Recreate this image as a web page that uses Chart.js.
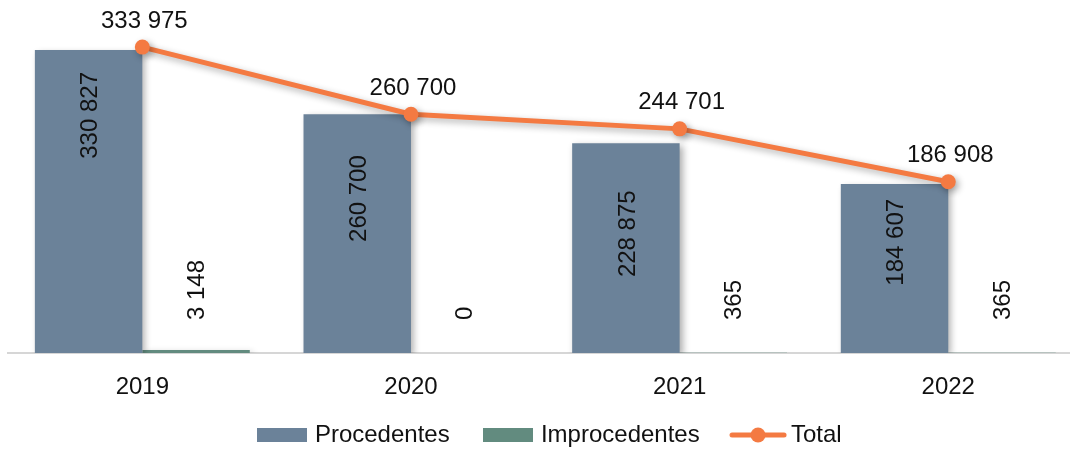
<!DOCTYPE html>
<html><head><meta charset="utf-8">
<script src="https://cdn.jsdelivr.net/npm/chart.js@4.4.1/dist/chart.umd.min.js"></script>
<style>html,body{margin:0;padding:0;background:#fff;overflow:hidden;width:1070px;height:449px}canvas{display:block}</style>
</head><body>
<canvas id="c" width="1090" height="449"></canvas>
<script>
const years = ['2019', '2020', '2021', '2022'];
const procedentes = [330827, 260700, 228875, 184607];
const improcedentes = [3148, 0, 365, 365];
const total = [333975, 260700, 244701, 186908];
const seriesNames = ['Procedentes', 'Improcedentes', 'Total'];

const COLORS = { proc: '#6B8299', improc: '#628B7F', total: '#F47A42', text: '#111111', axis: '#D6D6D6' };
const FONT = '"Liberation Sans", Arial, sans-serif';
const procLabelDrop = [22, 41, 47, 15];   // gap (px) from bar top to end of rotated label
const fmt = v => String(v).replace(/\B(?=(\d{3})+(?!\d))/g, ' ');

function rectIcon(color) {
  const c = document.createElement('canvas'); c.width = 50; c.height = 14;
  const g = c.getContext('2d'); g.fillStyle = color; g.fillRect(0, 0, 50, 14); return c;
}
function lineIcon(color) {
  const c = document.createElement('canvas'); c.width = 58; c.height = 16;
  const g = c.getContext('2d'); g.strokeStyle = color; g.lineWidth = 5; g.lineCap = 'round';
  g.beginPath(); g.moveTo(3, 8); g.lineTo(55, 8); g.stroke();
  g.fillStyle = color; g.beginPath(); g.arc(29, 8, 7.5, 0, Math.PI * 2); g.fill(); return c;
}
const icons = [rectIcon(COLORS.proc), rectIcon(COLORS.improc), lineIcon(COLORS.total)];

const shadowPlugin = {
  id: 'shadow',
  beforeDatasetDraw(chart) {
    const ctx = chart.ctx; ctx.save();
    ctx.shadowColor = 'rgba(0,0,0,0.32)'; ctx.shadowBlur = 7; ctx.shadowOffsetX = 3; ctx.shadowOffsetY = 3;
  },
  afterDatasetDraw(chart) { chart.ctx.restore(); }
};

const labelPlugin = {
  id: 'valueLabels',
  afterDatasetsDraw(chart) {
    const ctx = chart.ctx;
    ctx.save();
    ctx.font = '24px ' + FONT; ctx.fillStyle = COLORS.text;
    ctx.textAlign = 'center'; ctx.textBaseline = 'middle';
    const base = chart.scales.y.getPixelForValue(0);
    chart.getDatasetMeta(0).data.forEach((bar, i) => {
      const t = fmt(procedentes[i]); const w = ctx.measureText(t).width;
      ctx.save(); ctx.translate(bar.x + 2, bar.y + procLabelDrop[i] + w / 2);
      ctx.rotate(-Math.PI / 2); ctx.fillText(t, 0, 0); ctx.restore();
    });
    chart.getDatasetMeta(1).data.forEach((bar, i) => {
      const t = fmt(improcedentes[i]); const w = ctx.measureText(t).width;
      ctx.save(); ctx.translate(bar.x + 1, base - 33 - w / 2);
      ctx.rotate(-Math.PI / 2); ctx.fillText(t, 0, 0); ctx.restore();
    });
    chart.getDatasetMeta(2).data.forEach((pt, i) => {
      ctx.fillText(fmt(total[i]), pt.x + 2, pt.y - 26);
    });
    ctx.restore();
  }
};

const layoutTweaks = {
  id: 'layoutTweaks',
  afterLayout(chart) {
    chart.legend.left += 6; chart.legend.right += 6;
    chart.scales.x.bottom += 30;   // let tick labels extend below the (short) axis box
  }
};

new Chart(document.getElementById('c'), {
  type: 'bar',
  data: {
    labels: years,
    datasets: [
      { label: seriesNames[0], data: procedentes, backgroundColor: COLORS.proc, order: 1,
        categoryPercentage: 0.8, barPercentage: 1.0 },
      { label: seriesNames[1], data: improcedentes, backgroundColor: COLORS.improc, order: 1,
        categoryPercentage: 0.8, barPercentage: 1.0 },
      { type: 'line', label: seriesNames[2], data: total, borderColor: COLORS.total, backgroundColor: COLORS.total,
        borderWidth: 5, pointRadius: 7.5, pointBorderWidth: 0, pointBackgroundColor: COLORS.total,
        tension: 0, order: 0, clip: false }
    ]
  },
  options: {
    responsive: false, animation: false, devicePixelRatio: 1,
    layout: { autoPadding: false, padding: { left: 8, right: 7.4, top: 0, bottom: -8 } },
    scales: {
      x: {
        grid: { display: false },
        border: { display: true, color: COLORS.axis, width: 2 },
        ticks: { color: COLORS.text, font: { family: FONT, size: 24 }, padding: 12 },
        afterFit(scale) { scale.height = 32.7; }
      },
      y: { display: false, min: 0, max: 385400 }
    },
    plugins: {
      tooltip: { enabled: false },
      legend: {
        position: 'bottom',
        labels: {
          usePointStyle: true, pointStyleWidth: 42, padding: 37.3,
          color: COLORS.text, font: { family: FONT, size: 24 },
          generateLabels: chart => chart.data.datasets.map((ds, i) => ({
            text: ds.label, pointStyle: icons[i], datasetIndex: i, hidden: false,
            fillStyle: COLORS.proc, strokeStyle: 'transparent', lineWidth: 0, fontColor: COLORS.text
          }))
        }
      }
    }
  },
  plugins: [shadowPlugin, labelPlugin, layoutTweaks]
});
</script>
</body></html>
